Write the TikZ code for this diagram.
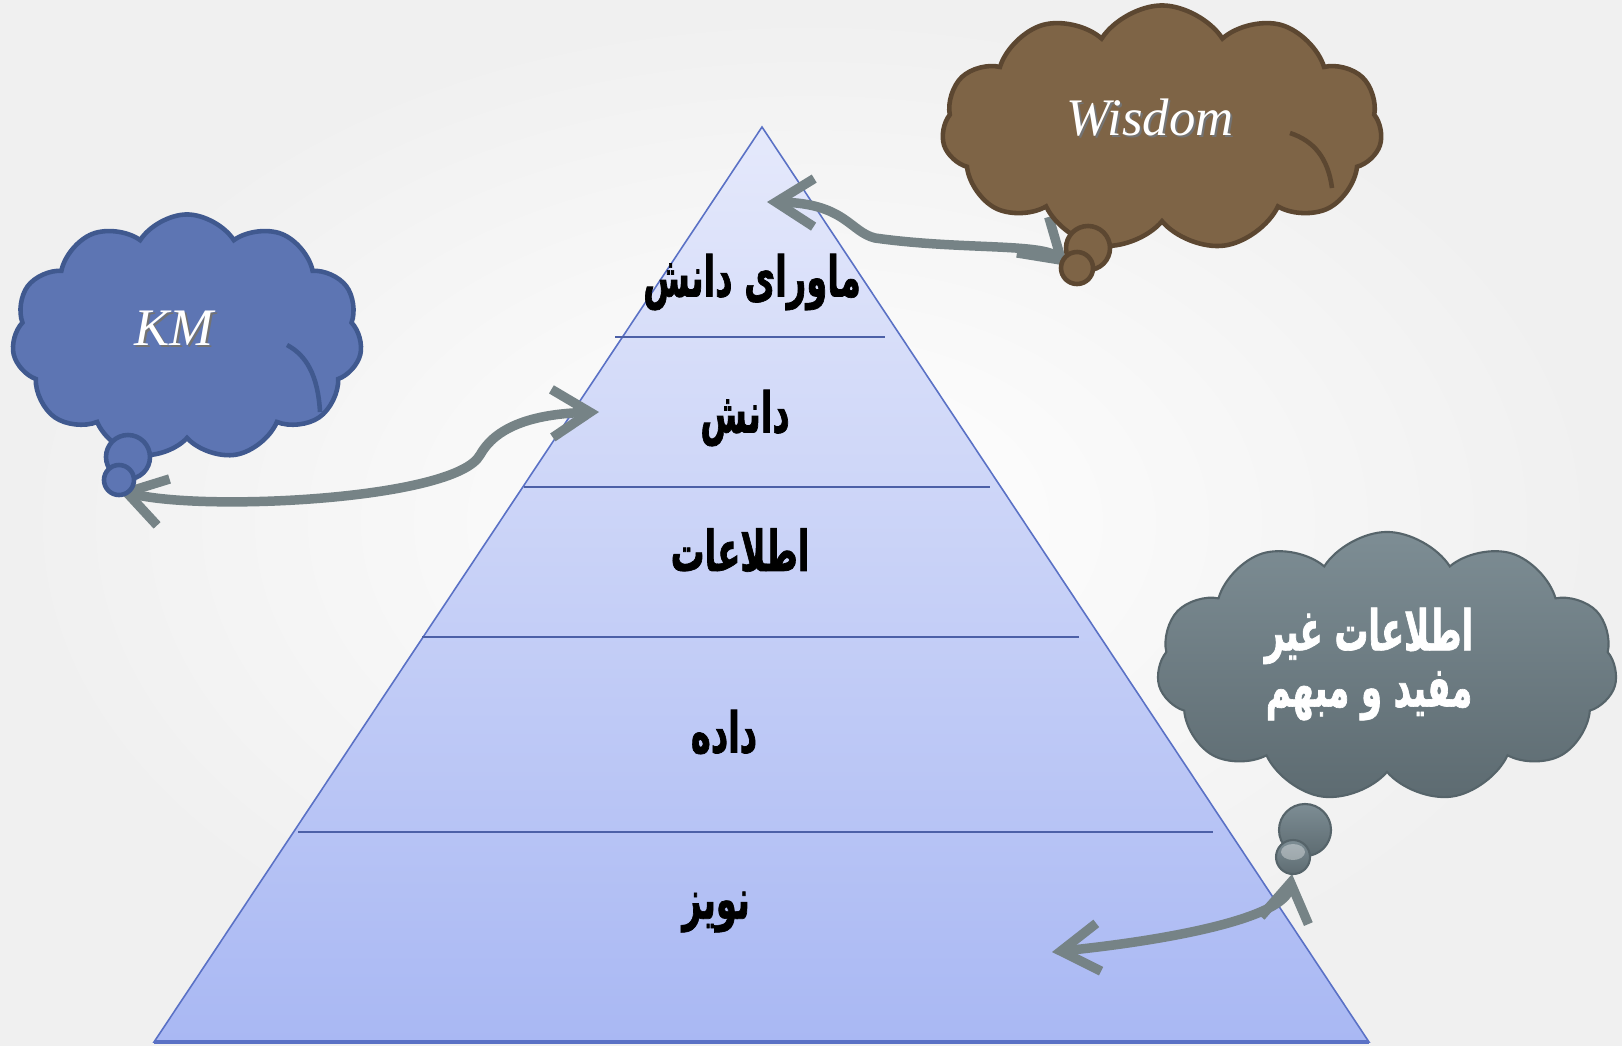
\documentclass[tikz,border=0pt]{standalone}
\usepackage{fontspec}
\setmainfont{Liberation Serif}
\newfontfamily\arabicfont[Script=Arabic, FakeStretch=0.6, BoldFeatures={FakeBold=1.2}]{DejaVu Sans}
\TeXXeTstate=1
\usetikzlibrary{shapes.symbols, arrows.meta, calc}

\definecolor{kmblue}{HTML}{5D75B3}
\definecolor{kmedge}{HTML}{40598F}
\definecolor{wisbrown}{HTML}{7E6446}
\definecolor{wisedge}{HTML}{5C4731}
\definecolor{noisetop}{HTML}{7D8D94}
\definecolor{noisebot}{HTML}{5D6B71}
\definecolor{noiseedge}{HTML}{56646A}
\definecolor{arrowgray}{HTML}{768386}
\definecolor{pyrtop}{HTML}{E5E9FB}
\definecolor{pyrbot}{HTML}{A9B8F3}
\definecolor{pyredge}{HTML}{5A71C5}

\tikzset{
  thought/.style={cloud, cloud puffs=11, cloud puff arc=115, draw, line width=1.3pt, inner sep=0pt},
  bubble/.style={circle, draw, line width=1.3pt, inner sep=0pt},
  layer/.style={font=\arabicfont\bfseries\fontsize{16}{19}\selectfont},
  sepline/.style={draw=pyredge!85!black, line width=0.7pt},
  link/.style={draw=arrowgray, line width=2.7pt, line cap=round, line join=round,
    {Straight Barb[length=3.8mm,width=4.8mm]}-{Straight Barb[length=3.8mm,width=4.8mm]}},
  latin/.style={font=\itshape\fontsize{15}{18}\selectfont, text=white},
  shadowtext/.style={font=\itshape\fontsize{15}{18}\selectfont, text=black!55},
}

\begin{document}
\begin{tikzpicture}[x=0.01cm, y=-0.01cm]
\useasboundingbox (0,0) rectangle (1622,1045);
\shade[inner color=white, outer color=black!6] (0,0) rectangle (1622,1045);

% pyramid
\shade[top color=pyrtop, bottom color=pyrbot] (762,127) -- (1369,1042) -- (154,1042) -- cycle;
\draw[pyredge, line width=0.45pt] (762,127) -- (1369,1042) -- (154,1042) -- cycle;
\draw[sepline] (615,337) -- (885,337);
\draw[sepline] (524,487) -- (990,487);
\draw[sepline] (422,637) -- (1079,637);
\draw[sepline] (298,832) -- (1213,832);
\draw[pyredge, line width=1pt] (154,1042) -- (1369,1042);

\node[layer] (beyond) at (752,282) {\beginR ماورای دانش\endR};
\node[layer] (knowledge) at (745,418) {\beginR دانش\endR};
\node[layer] (information) at (740,550) {\beginR اطلاعات\endR};
\node[layer] (data) at (724,732) {\beginR داده\endR};
\node[layer] (noiselabel) at (716,912) {\beginR نویز\endR};

% arrows, under the clouds
\coordinate (kmtail) at (118,490);
\coordinate (kmbend) at (480,455);
\coordinate (kmtip) at (599,412);
\coordinate (wistail) at (1068,266);
\coordinate (wisbend) at (875,238);
\coordinate (wistip) at (767,202);
\coordinate (noisetail) at (1292,874);
\coordinate (noisetip) at (1052,952);

\draw[link] (kmtail) .. controls (200,512) and (455,500) .. (kmbend)
  .. controls (495,428) and (530,414) .. (kmtip);
\draw[link] (wistail) .. controls (1042,243) and (960,250) .. (wisbend)
  .. controls (850,232) and (845,203) .. (wistip);
\draw[link] (noisetail) .. controls (1285,918) and (1170,940) .. (noisetip);

% clouds
\node[thought, aspect=1.45, fill=kmblue, draw=kmedge, minimum width=3.5cm, minimum height=2.45cm] (km) at (187,337) {};
\draw[kmedge, line width=1.3pt] (287,345) .. controls (306,355) and (318,375) .. (320,412);
\node[bubble, fill=kmblue, draw=kmedge, minimum size=0.44cm] (kmbig) at (128,457) {};
\node[bubble, fill=kmblue, draw=kmedge, minimum size=0.3cm] (kmsmall) at (119,480) {};
\node[shadowtext] at (176,330) {KM};
\node[latin] (kmtext) at (174,328) {KM};

\node[thought, aspect=1.8, fill=wisbrown, draw=wisedge, minimum width=4.4cm, minimum height=2.45cm] (wisdom) at (1162,128) {};
\draw[wisedge, line width=1.3pt] (1290,133) .. controls (1314,141) and (1328,158) .. (1332,188);
\node[bubble, fill=wisbrown, draw=wisedge, minimum size=0.44cm] (wisbig) at (1088,248) {};
\node[bubble, fill=wisbrown, draw=wisedge, minimum size=0.32cm] (wissmall) at (1077,268) {};
\node[shadowtext] at (1152,120) {Wisdom};
\node[latin] (wistext) at (1150,118) {Wisdom};

\node[thought, aspect=1.7, top color=noisetop, bottom color=noisebot, draw=noiseedge, line width=0.6pt, minimum width=4.6cm, minimum height=2.7cm] (noise) at (1387,667) {};
\node[bubble, top color=noisetop, bottom color=noisebot, draw=noiseedge, line width=0.6pt, minimum size=0.52cm] (noisebig) at (1305,830) {};
\node[bubble, top color=noisetop, bottom color=noisebot, draw=noiseedge, line width=0.6pt, minimum size=0.34cm] (noisesmall) at (1293,857) {};
\fill[white, opacity=0.35] (1293,852) ellipse (12 and 8);
\node[layer, text=white, align=center] (noisetext) at (1369,664) {\beginR اطلاعات غیر\endR\\[-3pt] \beginR مفید و مبهم\endR};
\end{tikzpicture}
\end{document}
